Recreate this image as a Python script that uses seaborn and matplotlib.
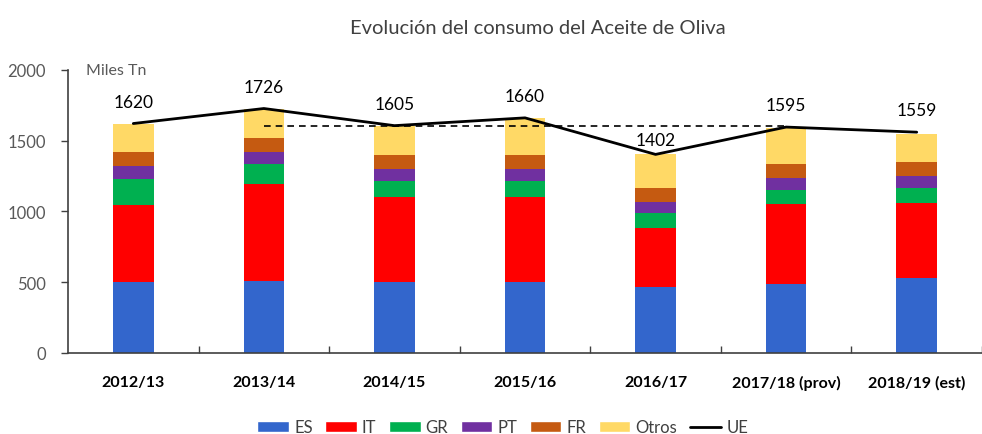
import pandas as pd
import numpy as np
import matplotlib.pyplot as plt
import seaborn as sns
from matplotlib.patches import Patch
from matplotlib.lines import Line2D

# campaigns (x axis)
campaigns = ['2012/13', '2013/14', '2014/15', '2015/16', '2016/17', '2017/18 (prov)', '2018/19 (est)']

# consumption by country, miles Tn (stacked)
es = [500, 505, 500, 500, 466, 485, 527]
it = [545, 685, 600, 600, 416, 565, 529]
gr = [180, 145, 115, 115, 109, 104, 106]
pt = [97, 83, 82, 82, 73, 80, 85]
fr = [98, 98, 98, 98, 103, 99, 99]
otros = [200, 210, 210, 265, 235, 257, 198]

# total EU line
ue = [1620, 1726, 1605, 1660, 1402, 1595, 1559]
ref_level = 1600

series_names = ['ES', 'IT', 'GR', 'PT', 'FR', 'Otros']
series_vals = [es, it, gr, pt, fr, otros]
colors = ['#3366CC', '#FF0000', '#00B050', '#7030A0', '#C55A11', '#FFD966']

sns.set_theme(style='white')
plt.rcParams['font.family'] = ['Lato', 'DejaVu Sans']

fig = plt.figure(figsize=(9.82, 4.35), dpi=100)
ax = fig.add_axes([68 / 982, (435 - 354) / 435, (982 - 68) / 982, (354 - 70.7) / 435])

bottom = np.zeros(len(campaigns))
for name, vals, col in zip(series_names, series_vals, colors):
    df = pd.DataFrame({'campaign': campaigns, 'value': vals})
    sns.barplot(data=df, x='campaign', y='value', color=col, width=0.31,
                bottom=bottom, ax=ax, saturation=1, errorbar=None, linewidth=0)
    bottom = bottom + np.array(vals)

# EU total line
ue_df = pd.DataFrame({'campaign': campaigns, 'UE': ue})
sns.lineplot(data=ue_df, x=np.arange(len(campaigns)), y='UE', color='black',
             linewidth=2, ax=ax, sort=False)

# dashed reference
ax.hlines(ref_level, 1, 5, colors='black', linestyles=(0, (4, 3)), linewidth=1.2)

# labels
for i, v in enumerate(ue):
    off = 104 if v == 1402 else 155
    ax.text(i, v + off, str(v), ha='center', va='center', fontsize=12.5, color='#000000')

ax.set_ylim(0, 2000)
ax.set_xlim(-0.5, 6.43)
ax.set_yticks([0, 500, 1000, 1500, 2000])
ax.set_xlabel('')
ax.set_ylabel('')
ax.set_xticks(np.arange(len(campaigns)))
ax.set_xticklabels(campaigns, fontsize=11.5, fontweight='bold', color='#000000')
ax.set_xticks(np.arange(len(campaigns)) + 0.5, minor=True)
ax.tick_params(axis='x', which='major', bottom=False, pad=10)
ax.tick_params(axis='x', which='minor', bottom=True, direction='in', length=5,
               width=1, color='#404040')
ax.tick_params(axis='y', left=True, labelsize=12, labelcolor='#595959', length=5, width=1,
               color='#404040', direction='out', pad=11)
for s in ['top', 'right']:
    ax.spines[s].set_visible(False)
for s in ['left', 'bottom']:
    ax.spines[s].set_color('#404040')
    ax.spines[s].set_linewidth(1.2)

ax.text(0.02, 1.0, 'Miles Tn', transform=ax.transAxes, fontsize=11.5,
        color='#595959', va='center', ha='left')

fig.text(0.548, 0.935, 'Evolución del consumo del Aceite de Oliva', ha='center',
         va='center', fontsize=14.5, color='#404040')

handles = [Patch(facecolor=c, label=n) for n, c in zip(series_names, colors)]
handles.append(Line2D([0], [0], color='black', linewidth=2, label='UE'))
fig.legend(handles=handles, loc='center', bbox_to_anchor=(0.512, 0.015), ncol=7,
           frameon=False, fontsize=12, handlelength=1.9, handleheight=0.65,
           columnspacing=0.75, handletextpad=0.3, labelcolor='#404040')

fig.savefig('out.png', dpi=100)
